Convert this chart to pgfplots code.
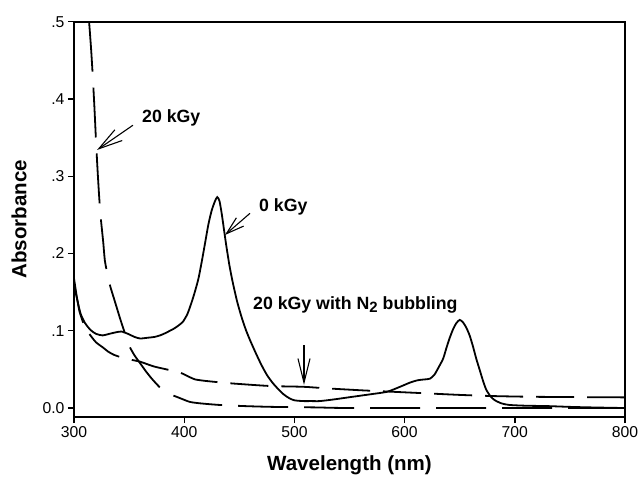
\documentclass[border=0pt]{standalone}
\usepackage{fontspec}
\setmainfont{Liberation Sans}
\usepackage{pgfplots}
\pgfplotsset{compat=1.18}
\usetikzlibrary{arrows.meta}

\begin{document}
\begin{tikzpicture}
\begin{axis}[
    at={(0,0)}, anchor=south west,
    scale only axis,
    width=551bp, height=395.3bp,
    xmin=300, xmax=800,
    ymin=-0.0116, ymax=0.5,
    xtick={300,400,500,600,700,800},
    xticklabels={300,400,500,600,700,800},
    ytick={0,0.1,0.2,0.3,0.4,0.5},
    yticklabels={0.0,.1,.2,.3,.4,.5},
    tick align=outside,
    xtick pos=bottom, ytick pos=left,
    major tick length=6bp,
    axis line style={line width=2bp},
    every tick/.style={black, line width=1.4bp},
    /pgf/number format/assume math mode=true,
    tick label style={font=\fontsize{15.8}{16}\selectfont},
    xlabel={Wavelength (nm)},
    ylabel={Absorbance},
    label style={font=\fontsize{20.6}{22}\selectfont\bfseries},
    xlabel style={at={(axis description cs:0.5,-0.1366)}, anchor=base},
    ylabel style={at={(axis description cs:-0.0998,0.5)}, anchor=center},
]

% 0 kGy
\addplot[black, line width=1.8bp, smooth, tension=0.4] coordinates {
(300,0.168) (303,0.140) (306,0.122) (310,0.110) (315,0.101) (320,0.096)
(326,0.094) (332,0.096) (338,0.098) (343,0.099) (349,0.096) (355,0.092)
(360,0.090) (367,0.091) (373,0.092) (378,0.094) (383,0.097) (387,0.100)
(391,0.103) (395,0.107) (399,0.112) (403,0.122) (407,0.138) (410,0.152)
(413,0.168) (416,0.190) (419,0.214) (422,0.238) (425,0.256) (428,0.268)
(430,0.273) (432,0.268) (434,0.252) (436,0.232) (438,0.212) (441,0.185)
(444,0.163) (448,0.138) (452,0.118) (456,0.101) (460,0.087) (465,0.071)
(470,0.056) (475,0.043) (480,0.033) (485,0.025) (490,0.018) (495,0.013)
(500,0.010) (508,0.009) (515,0.009) (523,0.009) (535,0.011) (545,0.013)
(560,0.016) (570,0.018) (584,0.021) (595,0.027) (605,0.033) (612,0.036)
(618,0.037) (623,0.038) (627,0.043) (631,0.053) (635,0.064) (638,0.078)
(641,0.091) (644,0.102) (647,0.110) (650,0.114) (653,0.111) (656,0.104)
(659,0.094) (662,0.080) (665,0.064) (668,0.050) (671,0.036) (674,0.024)
(678,0.015) (682,0.010) (688,0.006) (695,0.004) (710,0.003) (730,0.0025)
(750,0.0015) (770,0.0008) (800,0.0)
};

% 20 kGy
\addplot[black, line width=1.8bp, smooth, tension=0.4, dash pattern=on 50bp off 16bp] coordinates {
(313.7,0.5) (315.5,0.465) (317,0.43)
(318.5,0.39) (320,0.345) (321.5,0.305) (323,0.27) (324.5,0.243) (326.5,0.215)
(328,0.191) (330.5,0.172) (333,0.157) (336,0.143) (339,0.129) (342,0.115)
(345,0.102) (348,0.089) (351,0.078) (355,0.068) (360,0.058) (365,0.048)
(370,0.039) (375,0.031) (380,0.024) (387,0.018) (395,0.0135) (405,0.008)
(415,0.006) (432,0.004) (455,0.0025) (480,0.0015) (520,0.0008) (560,0.0)
(800,0.0)
};

% 20 kGy with N2 bubbling
\addplot[black, line width=1.8bp, smooth, tension=0.4, dash pattern=on 38bp off 13bp] coordinates {
(300,0.158) (303,0.140) (305,0.125) (308.5,0.110) (312,0.100) (316,0.092)
(320,0.085) (326.6,0.078) (331,0.073) (336,0.069) (342,0.066) (350,0.063)
(360,0.060) (372,0.054) (384,0.050) (396,0.046) (405,0.040) (410,0.037)
(420,0.035) (442,0.032) (478,0.0285) (508,0.0275) (529,0.0255) (560,0.023)
(590,0.021) (620,0.019) (650,0.017) (680,0.0155) (720,0.0145) (800,0.0138)
};

% annotations
\draw[black, line width=1.1bp, -{Straight Barb[length=24bp,width=13bp]}]
    (axis cs:353.5,0.366) -- (axis cs:320.9,0.334);
\draw[black, line width=1.1bp, -{Straight Barb[length=18bp,width=11bp]}]
    (axis cs:459.7,0.252) -- (axis cs:437,0.224);
\draw[black, line width=1.1bp, -{Straight Barb[length=24bp,width=12bp]}]
    (axis cs:508.7,0.0815) -- (axis cs:508.7,0.030);

\node[anchor=base west, inner sep=0pt, font=\fontsize{17.8}{18}\selectfont\bfseries]
    at (axis cs:361.7,0.370) {20 kGy};
\node[anchor=base west, inner sep=0pt, font=\fontsize{17.8}{18}\selectfont\bfseries]
    at (axis cs:467.9,0.255) {0 kGy};
\node[anchor=base west, inner sep=0pt, font=\fontsize{17.8}{18}\selectfont\bfseries]
    at (axis cs:462.4,0.128) {20 kGy with N\raisebox{-0.35ex}{\fontsize{15}{15}\selectfont 2} bubbling};
\end{axis}
\pgfresetboundingbox
\path (-74bp,-61bp) rectangle (565bp,417bp);
\end{tikzpicture}
\end{document}
